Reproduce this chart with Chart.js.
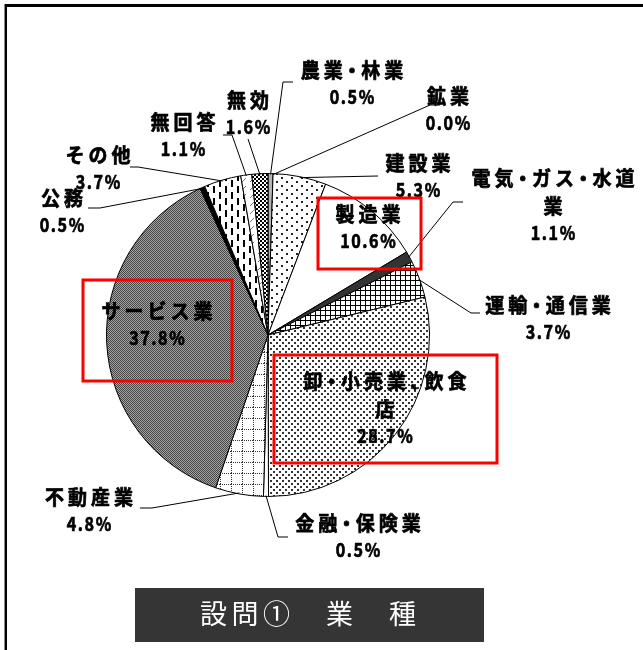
<!DOCTYPE html>
<html>
<head>
<meta charset="utf-8">
<script src="https://cdn.jsdelivr.net/npm/chart.js@4"></script>
<style>
  html, body { margin: 0; padding: 0; background: #fff; }
  canvas { display: block; }
</style>
</head>
<body>
<canvas id="pieChart" width="643" height="650"></canvas>
<script>
// data, clockwise from 12 o'clock
const categories = ['農業・林業', '鉱業', '建設業', '製造業', '電気・ガス・水道業', '運輸・通信業',
    '卸・小売業、飲食店', '金融・保険業', '不動産業', 'サービス業', '公務', 'その他', '無回答', '無効'];
const values = [0.5, 0.0, 5.3, 10.6, 1.1, 3.7, 28.7, 0.5, 4.8, 37.8, 0.5, 3.7, 1.1, 1.6];
const titleText = '設問①　業　種';

// label layout: centre x, first line y, wrap position
const labelPos = [[352, 70], [448, 96], [418, 163], [368, 214], [553, 178], [548, 305],
    [385, 381], [358, 523], [89, 497], [157, 311], [62, 198], [98, 155], [183, 122], [248, 100]];
const wrapAt = { 4: 8, 6: 8 };
// leader lines: label side points, the pie end is taken from the arc
const leaders = [[[293, 82], [283, 82]], [[440, 105], [430, 105]], [[378, 176]], null,
    [[463, 202], [453, 202]], [[480, 313], [471, 313]], null, [[288, 537], [278, 537]],
    [[140, 508], [152, 508]], null, [[88, 208], [100, 208]], [[130, 167], [138, 167]],
    [[223, 135], [232, 135]], [[248, 139]]];
const redBoxes = [[318, 198, 103, 71], [83, 280, 149, 101], [274, 355, 223, 108]];

const makePattern = function(w, h, draw) {
    const c = document.createElement('canvas');
    c.width = w; c.height = h;
    const x = c.getContext('2d');
    x.fillStyle = '#fff';
    x.fillRect(0, 0, w, h);
    draw(x);
    return x.createPattern(c, 'repeat');
};

const fills = [
    '#b4b4b4',
    '#ffffff',
    makePattern(10, 8, function(x) { x.fillStyle = '#222'; x.fillRect(1, 1, 2, 2); x.fillRect(6, 5, 2, 2); }),
    '#ffffff',
    '#333333',
    makePattern(5, 5, function(x) { x.fillStyle = '#000'; x.fillRect(0, 0, 5, 1); x.fillRect(0, 0, 1, 5); }),
    makePattern(6, 6, function(x) { x.fillStyle = '#333'; x.fillRect(0, 0, 2, 2); x.fillRect(3, 3, 2, 2); }),
    '#ffffff',
    makePattern(11, 11, function(x) {
        x.fillStyle = '#333';
        for (let i = 0; i < 11; i += 2) { x.fillRect(i, 0, 1, 1); x.fillRect(0, i, 1, 1); }
    }),
    makePattern(2, 2, function(x) {
        x.fillStyle = '#a6a6a6'; x.fillRect(0, 0, 2, 2);
        x.fillStyle = '#444'; x.fillRect(0, 0, 1, 1); x.fillRect(1, 1, 1, 1);
    }),
    '#000000',
    makePattern(12, 12, function(x) {
        x.fillStyle = '#000';
        x.fillRect(3, 0, 2, 7); x.fillRect(9, 6, 2, 6); x.fillRect(9, 0, 2, 1);
    }),
    makePattern(8, 8, function(x) {
        x.strokeStyle = '#777'; x.lineWidth = 1;
        x.beginPath(); x.moveTo(2, 6); x.lineTo(6, 2); x.stroke();
    }),
    makePattern(4, 4, function(x) { x.fillStyle = '#000'; x.fillRect(0, 0, 2, 2); x.fillRect(2, 2, 2, 2); })
];

// draws char by char so the middle dot stays narrow, like the original
const drawText = function(ctx, text, x, y, font, spacing, scaleX, weight) {
    ctx.save();
    ctx.font = font;
    ctx.textAlign = 'left';
    ctx.textBaseline = 'middle';
    const chars = Array.from(text);
    const adv = chars.map(function(ch) {
        const w = ctx.measureText(ch).width;
        return (ch === '・' || ch === '、' ? w * 0.55 : w) * scaleX;
    });
    const total = adv.reduce(function(s, w) { return s + w; }, 0) + spacing * (chars.length - 1);
    let cx = x - total / 2;
    chars.forEach(function(ch, i) {
        ctx.save();
        let off = 0;
        if (ch === '・') off = -adv[i] * 0.4;
        ctx.translate(cx + off, y);
        ctx.scale(scaleX, 1);
        ctx.fillText(ch, 0, 0);
        if (weight) {
            ctx.lineWidth = weight;
            ctx.strokeStyle = ctx.fillStyle;
            ctx.strokeText(ch, 0, 0);
        }
        ctx.restore();
        cx += adv[i] + spacing;
    });
    ctx.restore();
};

const overlay = {
    id: 'overlay',
    afterDraw: function(chart) {
        const ctx = chart.ctx;
        const arcs = chart.getDatasetMeta(0).data;
        ctx.save();

        // frame
        ctx.fillStyle = '#000';
        ctx.fillRect(4, 4, 639, 3);
        ctx.fillStyle = '#888';
        ctx.fillRect(4, 4, 1, 646);
        ctx.fillStyle = '#000';
        ctx.fillRect(5, 4, 2, 646);

        // leader lines
        ctx.strokeStyle = '#000';
        ctx.lineWidth = 1;
        leaders.forEach(function(pts, i) {
            if (!pts) return;
            const a = arcs[i];
            const mid = (a.startAngle + a.endAngle) / 2;
            const r = a.outerRadius - 1;
            ctx.beginPath();
            ctx.moveTo(pts[0][0], pts[0][1]);
            pts.slice(1).forEach(function(p) { ctx.lineTo(p[0], p[1]); });
            ctx.lineTo(a.x + r * Math.cos(mid), a.y + r * Math.sin(mid));
            ctx.stroke();
        });

        // labels
        ctx.fillStyle = '#000';
        categories.forEach(function(name, i) {
            const lines = wrapAt[i] ? [name.slice(0, wrapAt[i]), name.slice(wrapAt[i])] : [name];
            const pos = labelPos[i];
            lines.forEach(function(line, k) {
                drawText(ctx, line, pos[0], pos[1] + k * 28, 'bold 20px "Noto Sans CJK JP"', 4, 0.95, 0.7);
            });
            drawText(ctx, values[i].toFixed(1) + '%', pos[0], pos[1] + lines.length * 28 - 1,
                'bold 19px "Noto Sans CJK JP"', 1.5, 0.85, 0.7);
        });

        // red highlight boxes
        ctx.strokeStyle = '#ff0000';
        ctx.lineWidth = 3;
        redBoxes.forEach(function(b) { ctx.strokeRect(b[0], b[1], b[2], b[3]); });

        // title box
        ctx.fillStyle = '#353535';
        ctx.fillRect(135, 588, 349, 54);
        ctx.fillStyle = '#fff';
        drawText(ctx, titleText, 308, 614, '27px "Noto Sans CJK JP"', 4.5, 1, 0);

        ctx.restore();
    }
};

const ctx = document.getElementById('pieChart').getContext('2d');
const chart = new Chart(ctx, {
    type: 'pie',
    data: {
        labels: categories,
        datasets: [{
            data: values,
            backgroundColor: fills,
            borderColor: '#000',
            borderWidth: 1
        }]
    },
    options: {
        responsive: false,
        animation: false,
        layout: {
            padding: { left: 106, right: 213, top: 173, bottom: 153 }
        },
        plugins: {
            legend: { display: false },
            tooltip: { enabled: false }
        }
    },
    plugins: [overlay]
});
</script>
</body>
</html>
